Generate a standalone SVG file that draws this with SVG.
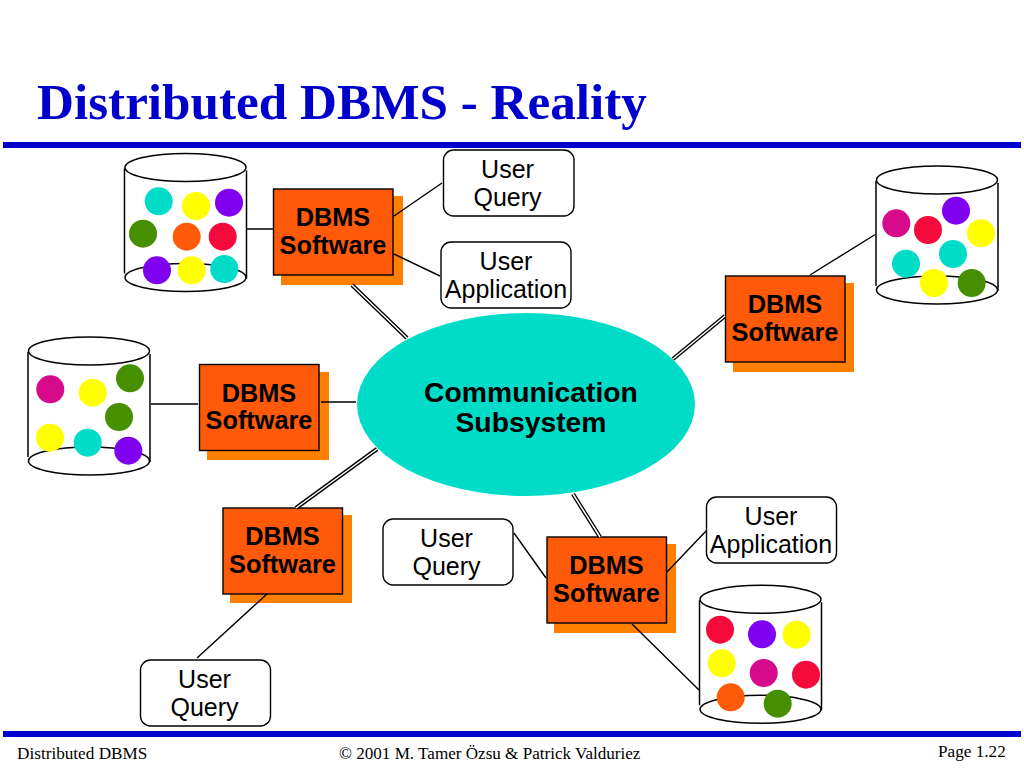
<svg xmlns="http://www.w3.org/2000/svg" width="1024" height="768" viewBox="0 0 1024 768">
<style>
.rule{fill:#0000cc}
.title{font:bold 51.2px "Liberation Serif",serif;fill:#0000cc}
.foot{font:17.2px "Liberation Serif",serif;fill:#000}
.shadow{fill:#ff7f00}
.box{fill:#ff5a0a;stroke:#000;stroke-width:1.4}
.bt{font:bold 25.3px "Liberation Sans",sans-serif;fill:#000;text-anchor:middle}
.user{fill:#fff;stroke:#000;stroke-width:1.4}
.ut{font:25px "Liberation Sans",sans-serif;fill:#000;text-anchor:middle}
.hub{fill:#00dcc8}
.ht{font:bold 28.3px "Liberation Sans",sans-serif;fill:#000;text-anchor:middle}
.cyl{fill:none;stroke:#000;stroke-width:1.5}
.s{stroke:#000;stroke-width:1.4;fill:none}
.do{stroke:#000;stroke-width:4.2;fill:none}
.di{stroke:#fff;stroke-width:1.5;fill:none}
.te{fill:#00dcc8}.ye{fill:#ffff00}.pu{fill:#8000f0}.gr{fill:#458f00}.or{fill:#ff5a0a}.re{fill:#f50a3c}.ma{fill:#d80a8c}
</style>
<defs>
<g id="cylinder" class="cyl">
<ellipse cx="0" cy="0" rx="60.5" ry="14"/>
<ellipse cx="0" cy="110" rx="60.5" ry="14"/>
<path d="M-61 1V106M61 3V111"/>
</g>
<circle id="b" r="14"/>
</defs>
<rect width="1024" height="768" fill="#fff"/>
<text class="title" x="37" y="119">Distributed DBMS - Reality</text>
<rect class="rule" x="3" y="142" width="1018" height="6"/>
<rect class="rule" x="3" y="731" width="1018" height="6"/>
<text class="foot" x="17" y="759">Distributed DBMS</text>
<text class="foot" x="339" y="759" style="font-size:17.08px">© 2001 M. Tamer Özsu &amp; Patrick Valduriez</text>
<text class="foot" x="938" y="757">Page 1.22</text>

<g id="hub"><ellipse class="hub" cx="526" cy="404.5" rx="169" ry="91.5"/>
<text class="ht" x="531" y="402">Communication</text><text class="ht" x="531" y="432">Subsystem</text></g>

<g id="db-top-left"><use href="#cylinder" x="185.5" y="167.5"/>
<use href="#b" x="158.7" y="201.3" class="te"/><use href="#b" x="196" y="206" class="ye"/><use href="#b" x="229" y="202.7" class="pu"/><use href="#b" x="143" y="233.7" class="gr"/><use href="#b" x="186.7" y="236.7" class="or"/><use href="#b" x="222.7" y="236.7" class="re"/><use href="#b" x="157" y="270.3" class="pu"/><use href="#b" x="191.7" y="270.3" class="ye"/><use href="#b" x="224.3" y="269" class="te"/></g>
<g id="db-right"><use href="#cylinder" x="937" y="180"/>
<use href="#b" x="896.3" y="223.3" class="ma"/><use href="#b" x="928" y="230" class="re"/><use href="#b" x="956" y="210.7" class="pu"/><use href="#b" x="981" y="233.3" class="ye"/><use href="#b" x="906" y="263.7" class="te"/><use href="#b" x="953" y="254" class="te"/><use href="#b" x="934" y="283" class="ye"/><use href="#b" x="971.7" y="283" class="gr"/></g>
<g id="db-left"><use href="#cylinder" x="89" y="351"/>
<use href="#b" x="50.3" y="389.3" class="ma"/><use href="#b" x="92.7" y="392.7" class="ye"/><use href="#b" x="130" y="378.3" class="gr"/><use href="#b" x="119" y="417" class="gr"/><use href="#b" x="50" y="437.7" class="ye"/><use href="#b" x="87.7" y="442.7" class="te"/><use href="#b" x="128.3" y="450.7" class="pu"/></g>
<g id="db-bottom"><use href="#cylinder" x="760.5" y="599.3"/>
<use href="#b" x="720" y="629.7" class="re"/><use href="#b" x="762" y="634.3" class="pu"/><use href="#b" x="796.7" y="634.7" class="ye"/><use href="#b" x="721.7" y="663.3" class="ye"/><use href="#b" x="763.7" y="673" class="ma"/><use href="#b" x="806" y="674.7" class="re"/><use href="#b" x="730.7" y="697.3" class="or"/><use href="#b" x="777.7" y="703.7" class="gr"/></g>

<g id="dbms-top-left"><rect class="shadow" x="281" y="196" width="122" height="89"/><rect class="box" x="273.5" y="189" width="119.5" height="86"/><text class="bt" x="333" y="226">DBMS</text><text class="bt" x="333" y="253.5">Software</text></g>
<g id="dbms-right"><rect class="shadow" x="733" y="283" width="121" height="89"/><rect class="box" x="725.5" y="276" width="119.5" height="86"/><text class="bt" x="785" y="313">DBMS</text><text class="bt" x="785" y="340.5">Software</text></g>
<g id="dbms-left"><rect class="shadow" x="207" y="372" width="122" height="88"/><rect class="box" x="199.5" y="364.5" width="119.5" height="86"/><text class="bt" x="259" y="401.5">DBMS</text><text class="bt" x="259" y="429">Software</text></g>
<g id="dbms-bottom-left"><rect class="shadow" x="230" y="515" width="122" height="88"/><rect class="box" x="223" y="508" width="119.5" height="86"/><text class="bt" x="282.5" y="545">DBMS</text><text class="bt" x="282.5" y="572.5">Software</text></g>
<g id="dbms-bottom-right"><rect class="shadow" x="554" y="544" width="122" height="89"/><rect class="box" x="547" y="537" width="119.5" height="86"/><text class="bt" x="606.5" y="574">DBMS</text><text class="bt" x="606.5" y="601.5">Software</text></g>

<g id="connectors">
<path class="s" d="M247 229H273M394 216L442 183M394 254L440 276M810 275L876 234M151 404H198M321 402H356M267 594L197 658M514 533L546 578M667 572L706 531M632 624L699 690"/>
<path class="do" d="M352 285L407 338M673 359L725 316M296 508L377 449M573 494L600 537"/>
<path class="di" d="M352 285L407 338M673 359L725 316M296 508L377 449M573 494L600 537"/>
</g>

<g id="user-query-1"><rect class="user" x="443.5" y="150" width="130.5" height="66" rx="10"/><text class="ut" x="507.5" y="178">User</text><text class="ut" x="507.5" y="205.5">Query</text></g>
<g id="user-app-1"><rect class="user" x="441" y="242" width="130" height="66" rx="10"/><text class="ut" x="506" y="270">User</text><text class="ut" x="506" y="297.5">Application</text></g>
<g id="user-app-2"><rect class="user" x="706.5" y="497" width="130" height="66" rx="10"/><text class="ut" x="771" y="525">User</text><text class="ut" x="771" y="552.5">Application</text></g>
<g id="user-query-2"><rect class="user" x="383" y="519" width="130" height="66" rx="10"/><text class="ut" x="446.5" y="547">User</text><text class="ut" x="446.5" y="574.5">Query</text></g>
<g id="user-query-3"><rect class="user" x="140.5" y="660" width="130" height="66" rx="10"/><text class="ut" x="204.5" y="688">User</text><text class="ut" x="204.5" y="715.5">Query</text></g>
</svg>
